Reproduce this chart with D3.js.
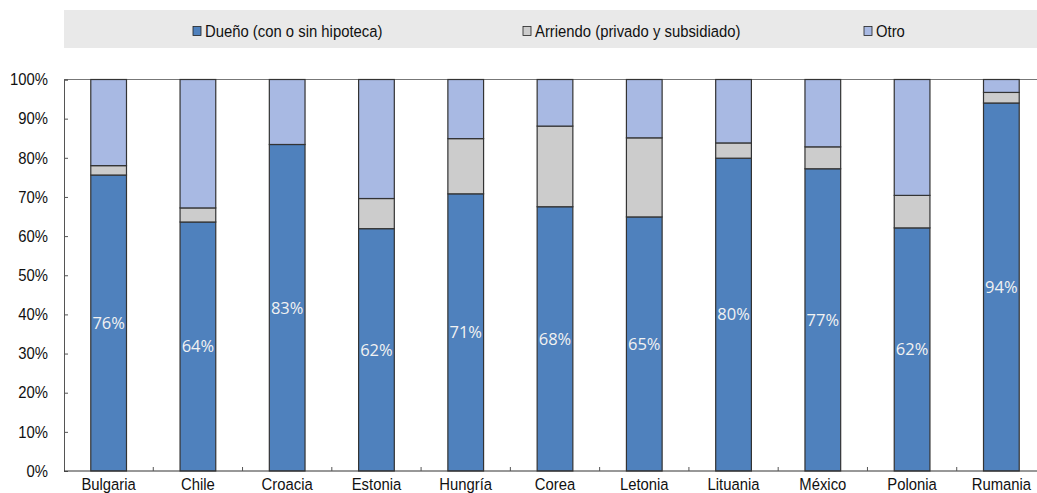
<!DOCTYPE html>
<html>
<head>
<meta charset="utf-8">
<script src="https://cdn.jsdelivr.net/npm/d3@7"></script>
<style>
  html, body { margin: 0; padding: 0; background: #fff; overflow: hidden; }
  svg { display: block; }
</style>
</head>
<body>
<svg id="chart" width="1037" height="493"></svg>
<script>
// Tenencia de la vivienda por país (% de hogares)
const countries = ["Bulgaria", "Chile", "Croacia", "Estonia", "Hungría", "Corea", "Letonia", "Lituania", "México", "Polonia", "Rumania"];
const owner = [75.6, 63.6, 83.4, 61.9, 70.8, 67.5, 64.9, 79.9, 77.2, 62.1, 94.0];
const rent  = [2.4, 3.6, 0.0, 7.7, 14.1, 20.6, 20.2, 3.9, 5.6, 8.3, 2.7];
const other = [22.0, 32.8, 16.6, 30.4, 15.1, 11.9, 14.9, 16.2, 17.2, 29.6, 3.3];
const seriesNames = ["Dueño (con o sin hipoteca)", "Arriendo (privado y subsidiado)", "Otro"];
const yTicks = [0, 10, 20, 30, 40, 50, 60, 70, 80, 90, 100];

const colors = ["#4f81bd", "#cccccc", "#a8b9e3"];
const font = "'Liberation Sans Narrow', 'Arial Narrow', 'Liberation Sans', Arial, sans-serif";
const fontSize = 16.5;
const squeeze = 0.9; // condensed look for axis and legend text

const rows = countries.map((c, i) => ({ country: c, owner: owner[i], rent: rent[i], other: other[i] }));
const keys = ["owner", "rent", "other"];
const stacked = d3.stack().keys(keys)(rows);

const svg = d3.select("#chart");

const plotLeft = 64, plotRight = 1046, plotTop = 79.5, plotBottom = 471;

const x = d3.scaleBand().domain(countries).range([plotLeft, plotRight]).paddingInner(0.6).paddingOuter(0.3);
const y = d3.scaleLinear().domain([0, 100]).range([plotBottom, plotTop]);

// Condensed text helper: positions with a transform so the glyphs can be narrowed
function narrowText(sel, px, py, anchor) {
  return sel.attr("x", 0).attr("y", 0)
    .attr("transform", (d, i) => `translate(${px(d, i)},${py(d, i)}) scale(${squeeze},1)`)
    .attr("text-anchor", anchor)
    .attr("font-family", font).attr("font-size", fontSize).attr("fill", "#111");
}

// Legend band
svg.append("rect").attr("x", 64).attr("y", 10).attr("width", 973).attr("height", 38).attr("fill", "#e9e9e9");
const legendX = [205, 535, 876];
const legend = svg.append("g");
seriesNames.forEach((name, i) => {
  const g = legend.append("g").attr("transform", `translate(${legendX[i]},31)`);
  g.append("rect").attr("x", -12).attr("y", -4.5).attr("width", 8).attr("height", 9)
    .attr("fill", colors[i]).attr("stroke", "#222").attr("stroke-width", 0.8);
  narrowText(g.append("text").datum(name), () => 0, () => 0, "start")
    .attr("dy", "0.35em").text(name);
});

// Top edge of the plot frame
svg.append("line").attr("x1", plotLeft).attr("x2", 1037).attr("y1", plotTop).attr("y2", plotTop)
  .attr("stroke", "#777").attr("stroke-width", 1);

// Stacked bars
svg.append("g").selectAll("g").data(stacked).join("g")
  .attr("fill", (d, i) => colors[i])
  .selectAll("rect").data(d => d).join("rect")
  .attr("x", d => x(d.data.country))
  .attr("width", x.bandwidth())
  .attr("y", d => y(d[1]))
  .attr("height", d => y(d[0]) - y(d[1]))
  .attr("stroke", "#333").attr("stroke-width", 1.2);

// Y axis
const yAxis = d3.axisLeft(y).tickValues(yTicks).tickFormat(d => d + "%").tickSize(-4).tickPadding(16);
const gy = svg.append("g").attr("transform", `translate(${plotLeft},0)`).call(yAxis);
gy.select(".domain").attr("stroke", "#555");
gy.selectAll(".tick line").attr("stroke", "#555");
gy.selectAll(".tick text").each(function () {
  const t = d3.select(this);
  t.attr("transform", `translate(-16,0) scale(${squeeze},1)`).attr("x", 0)
    .attr("font-family", font).attr("font-size", fontSize).attr("fill", "#111");
});

// X axis with inward ticks at category boundaries
const gx = svg.append("g").attr("transform", `translate(0,${plotBottom})`);
gx.append("line").attr("x1", plotLeft).attr("x2", 1037).attr("stroke", "#333").attr("stroke-width", 1.2);
const step = x.step();
gx.selectAll("line.sep").data(countries.slice(1)).join("line").attr("class", "sep")
  .attr("x1", d => x(d) - step * 0.3).attr("x2", d => x(d) - step * 0.3)
  .attr("y1", 0).attr("y2", -4).attr("stroke", "#555");
narrowText(gx.selectAll("text").data(countries).join("text"),
  d => x(d) + x.bandwidth() / 2, () => 18.5, "middle")
  .text(d => d);

// Owner share labels
svg.append("g").selectAll("text").data(stacked[0]).join("text")
  .attr("x", d => x(d.data.country) + x.bandwidth() / 2)
  .attr("y", d => (y(d[0]) + y(d[1])) / 2)
  .attr("dy", "0.35em")
  .attr("text-anchor", "middle")
  .attr("font-family", "'Open Sans', 'Noto Sans', sans-serif")
  .attr("font-size", 16.5)
  .attr("fill", "#f2f2f2")
  .text(d => Math.round(d.data.owner) + "%");
</script>
</body>
</html>
